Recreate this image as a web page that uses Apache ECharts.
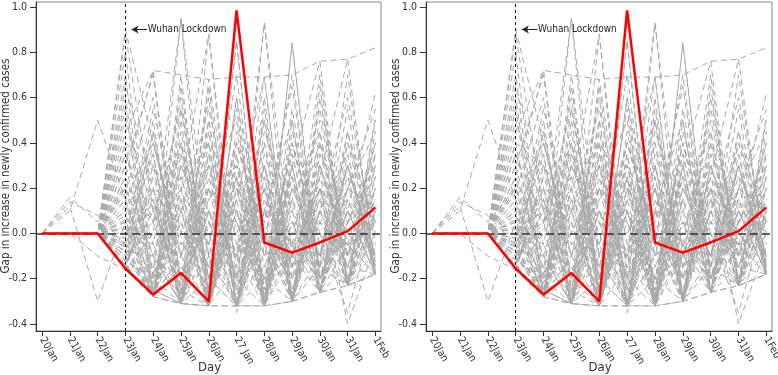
<!DOCTYPE html>
<html>
<head>
<meta charset="utf-8">
<script src="https://cdn.jsdelivr.net/npm/echarts@6/dist/echarts.min.js"></script>
<style>
  html, body { margin: 0; padding: 0; background: #fff; }
  #main { width: 778px; height: 375px; }
</style>
</head>
<body>
<div id="main"></div>
<script>
// tick labels
const days = ['20Jan', '21Jan', '22Jan', '23Jan', '24Jan', '25Jan', '26Jan', '27 Jan', '28Jan', '29Jan', '30Jan', '31Jan', '1Feb'];
const dayIdx = [0, 1, 2, 3, 4, 5, 6, 7, 8, 9, 10, 11, 12];
const yTicks = [-0.4, -0.2, 0, 0.2, 0.4, 0.6, 0.8, 1.0];

// treated unit (Wuhan) gap
const wuhan = [0, 0, 0, -0.155, -0.27, -0.175, -0.30, 0.985, -0.04, -0.085, -0.04, 0.01, 0.115];

// placebo gaps, one row per control city
const placebo = [
  [0, 0, 0, 0.88, 0.10, -0.20, 0.30, -0.10, 0.20, -0.25, 0.10, -0.05, 0.05],
  [0, 0, 0, 0.80, -0.20, 0.95, -0.10, 0.30, -0.28, 0.40, -0.15, 0.20, -0.10],
  [0, 0, 0, 0.45, 0.72, 0.70, 0.68, 0.69, 0.69, 0.70, 0.76, 0.77, 0.82],
  [0, 0, 0, 0.30, 0.70, -0.28, 0.88, -0.20, 0.50, -0.30, 0.30, -0.10, 0.40],
  [0, 0, 0, -0.16, -0.28, 0.50, -0.31, 0.60, -0.32, 0.84, -0.20, 0.30, -0.15],
  [0, 0.16, 0.05, 0.20, -0.10, 0.30, 0.10, -0.25, 0.93, -0.10, 0.20, 0.05, 0.15],
  [0, 0.10, 0.50, 0.15, 0.40, -0.05, 0.20, 0.10, -0.20, 0.30, 0.76, -0.22, 0.10],
  [0, 0.12, -0.30, 0.05, 0.30, 0.10, -0.30, 0.40, 0.00, -0.10, 0.25, 0.77, -0.18],
  [0, 0, 0, 0.60, -0.25, 0.20, 0.40, -0.32, 0.10, 0.50, -0.26, 0.10, 0.62],
  [0, 0, 0, 0.10, 0.35, -0.30, 0.15, 0.30, -0.10, 0.00, 0.40, -0.23, 0.50],
  [0, 0, 0, -0.05, 0.20, -0.31, 0.68, -0.15, 0.69, -0.28, 0.10, 0.35, -0.17],
  [0, 0, 0, 0.00, -0.28, 0.70, -0.32, 0.20, -0.05, 0.70, -0.20, 0.15, 0.00],
  [0, 0, 0, -0.12, 0.05, 0.25, -0.20, 0.55, -0.32, 0.10, 0.30, -0.15, 0.30],
  [0, 0, 0, -0.16, -0.15, 0.40, -0.10, -0.32, 0.35, -0.05, 0.55, -0.10, 0.20],
  [0, 0, 0, 0.20, -0.28, 0.10, 0.55, -0.05, -0.30, 0.20, -0.10, 0.45, -0.12],
  [0, 0, 0, -0.08, 0.45, -0.20, 0.20, -0.30, 0.60, -0.30, 0.65, -0.23, 0.25],
  [0, 0, 0, 0.05, 0.15, -0.31, 0.35, 0.05, -0.32, 0.45, 0.00, -0.05, -0.18],
  [0, 0, 0, -0.14, -0.28, 0.05, -0.32, 0.20, 0.15, -0.20, 0.10, 0.60, -0.05],
  [0, 0, 0, 0.35, -0.05, 0.60, -0.25, 0.10, -0.20, 0.25, -0.26, 0.20, 0.45],
  [0, 0, 0, -0.10, 0.25, -0.10, 0.50, -0.32, 0.40, -0.10, 0.20, -0.23, 0.10],
  [0, 0, 0, 0.15, -0.20, 0.30, -0.05, 0.70, -0.25, 0.55, -0.15, 0.30, -0.16],
  [0, 0, 0, -0.16, -0.28, -0.31, -0.32, -0.32, -0.32, -0.30, -0.26, -0.23, -0.18],
  [0, 0, 0, -0.02, 0.55, 0.00, -0.15, 0.25, -0.10, 0.35, -0.20, 0.05, 0.35],
  [0, 0, 0, 0.25, -0.10, -0.31, 0.25, -0.20, 0.20, -0.30, 0.45, -0.20, 0.15],
  [0, 0, 0, -0.06, -0.28, 0.35, 0.05, -0.10, 0.50, -0.15, 0.15, -0.23, 0.52],
  [0, 0, 0, 0.50, 0.10, -0.15, -0.32, 0.45, -0.15, 0.15, -0.25, 0.40, -0.10],
  [0, 0, 0, -0.12, 0.10, -0.25, 0.45, -0.25, 0.25, -0.28, 0.35, 0.00, -0.15],
  [0, 0, 0, 0.08, -0.22, 0.15, -0.30, 0.35, -0.28, 0.05, -0.10, 0.25, 0.05],
  [0, 0, 0, -0.16, 0.30, -0.05, 0.10, -0.32, 0.05, 0.65, -0.20, 0.10, -0.18],
  [0, 0, 0, 0.40, -0.28, 0.45, -0.20, 0.15, -0.32, 0.20, 0.05, -0.15, 0.25],
  [0, 0, 0, -0.04, 0.05, 0.55, -0.10, -0.15, 0.30, -0.30, 0.20, -0.40, -0.05],
  [0, 0, 0, 0.12, -0.15, -0.20, 0.60, -0.35, 0.10, -0.05, 0.00, -0.35, 0.10],
  [0, 0, 0, -0.10, -0.28, 0.20, -0.25, 0.85, -0.30, 0.30, -0.26, 0.15, -0.12],
  [0, 0, 0, 0.65, 0.20, -0.31, 0.10, 0.05, -0.20, -0.10, 0.50, -0.05, 0.00],
  [0, 0, 0, -0.14, 0.40, -0.10, -0.32, 0.15, 0.69, -0.30, 0.25, -0.20, 0.35],
  [0, 0, 0, 0.02, -0.05, 0.10, 0.30, -0.20, -0.32, 0.35, -0.15, 0.70, -0.15],
  [0, 0, 0, -0.16, -0.28, 0.25, -0.15, 0.40, -0.05, -0.30, 0.30, -0.10, 0.15],
  [0, 0, 0, 0.18, 0.60, -0.20, 0.05, -0.32, 0.45, 0.10, -0.26, 0.30, -0.10],
  [0, 0, 0, -0.08, -0.10, -0.31, 0.40, 0.20, -0.20, 0.40, -0.05, -0.23, 0.45],
  [0, 0, 0, 0.05, -0.28, 0.65, -0.28, -0.05, 0.20, -0.20, 0.35, 0.10, -0.18],
  [0, 0, 0, -0.12, 0.15, -0.31, 0.20, -0.10, -0.32, 0.25, -0.10, 0.40, 0.05],
  [0, 0, 0, 0.30, -0.18, 0.05, -0.32, 0.60, -0.10, 0.05, -0.26, 0.05, 0.30],
  [0, 0, 0, -0.16, 0.25, 0.15, -0.05, -0.32, 0.30, -0.30, 0.10, -0.15, 0.20],
  [0, 0, 0, 0.00, -0.28, -0.10, 0.15, 0.10, -0.32, 0.15, 0.45, -0.23, -0.08],
  [0, 0, 0, 0.22, 0.05, 0.40, -0.32, 0.30, 0.05, -0.25, 0.15, 0.25, -0.18],
  [0, 0, 0, -0.06, 0.50, -0.31, 0.30, -0.30, 0.15, -0.05, -0.20, 0.20, 0.10],
  [0, 0, 0, 0.70, -0.28, 0.10, -0.15, -0.10, 0.40, -0.30, 0.60, -0.10, -0.05],
  [0, 0, 0, -0.16, -0.05, -0.31, 0.50, -0.25, -0.15, 0.20, -0.10, 0.55, -0.18],
  [0, 0, 0, 0.10, 0.20, -0.20, -0.32, 0.20, -0.32, 0.50, -0.26, -0.05, 0.40],
  [0, 0, 0, -0.10, -0.28, 0.30, 0.00, -0.32, 0.55, -0.20, 0.05, 0.15, -0.15],
  [0, 0, 0, 0.40, 0.30, -0.31, 0.20, 0.50, -0.25, -0.10, 0.20, -0.23, 0.05],
  [0, 0, 0, -0.14, 0.10, 0.05, -0.32, -0.15, 0.20, -0.30, 0.40, 0.05, 0.25],
  [0, 0, 0, 0.06, -0.28, 0.55, -0.20, 0.25, -0.32, 0.30, -0.26, 0.35, -0.18],
  [0, 0, 0, -0.02, 0.35, -0.31, -0.05, 0.40, -0.05, 0.10, -0.15, -0.23, 0.20],
  [0, 0, 0, 0.55, -0.28, -0.10, 0.35, -0.32, 0.30, -0.15, 0.25, 0.00, -0.12],
  [0, 0, 0, -0.16, 0.00, 0.20, -0.32, 0.05, -0.25, 0.40, -0.05, 0.20, 0.55],
  [0, 0, 0, 0.15, -0.25, -0.31, 0.05, -0.32, 0.10, -0.30, 0.10, -0.23, -0.18],
  [0, 0, 0, -0.08, -0.28, -0.31, -0.32, 0.10, -0.32, -0.05, -0.26, 0.10, -0.18],
  [0, 0, 0, 0.03, -0.28, -0.15, -0.32, -0.32, -0.20, -0.30, -0.26, -0.23, 0.00],
  [0, 0, 0, -0.12, -0.20, -0.31, -0.20, -0.32, -0.32, -0.30, -0.10, -0.23, -0.18],
  [0, 0.14, 0.08, -0.05, -0.28, 0.15, -0.32, 0.25, -0.32, -0.10, -0.26, -0.15, -0.18],
  [0, 0, -0.10, -0.16, -0.25, -0.31, -0.10, -0.32, 0.00, -0.30, -0.15, -0.23, 0.10],
  [0, 0, 0, 0.90, 0.40, -0.10, 0.20, 0.00, 0.30, -0.15, 0.05, -0.10, 0.15],
  [0, 0, 0, 0.25, 0.72, -0.25, 0.10, -0.20, 0.10, 0.05, -0.20, 0.10, -0.10],
  [0, 0, 0, -0.16, 0.00, 0.95, -0.32, 0.10, -0.20, -0.10, 0.10, -0.05, 0.05],
  [0, 0, 0, 0.10, -0.28, 0.20, 0.88, -0.32, 0.20, -0.05, 0.15, -0.15, 0.10],
  [0, 0, 0, -0.04, 0.15, -0.31, 0.10, -0.10, 0.93, -0.30, 0.05, -0.10, 0.15],
  [0, 0, 0, 0.02, -0.20, 0.10, -0.32, 0.25, -0.30, 0.84, -0.25, 0.05, -0.10],
  [0, 0, 0, -0.14, -0.28, 0.40, -0.25, 0.85, -0.32, 0.05, 0.00, -0.23, 0.20],
  [0, 0, 0, 0.35, 0.05, -0.31, 0.65, -0.32, 0.25, -0.30, 0.30, -0.05, -0.18],
  [0, 0, 0, -0.10, 0.45, -0.25, -0.32, 0.35, -0.30, 0.30, -0.26, 0.45, 0.00],
  [0, 0, 0, 0.00, 0.10, 0.35, -0.20, -0.32, 0.10, -0.15, 0.70, -0.23, 0.30],
  [0, 0, 0, -0.06, -0.28, 0.00, 0.30, 0.10, -0.32, 0.15, -0.10, 0.30, -0.18],
  [0, 0, 0, 0.20, -0.10, -0.31, -0.32, 0.15, 0.00, -0.30, 0.20, -0.10, 0.35],
  [0, 0, 0, -0.16, 0.20, 0.10, 0.40, -0.32, -0.10, 0.25, -0.26, 0.20, 0.05]
];

const lockdownDay = 3;
const lockdownText = 'Wuhan Lockdown';
const arrowY = 0.9;
const yTitle = 'Gap in increase in newly confirmed cases';
const xTitle = 'Day';

const chart = echarts.init(document.getElementById('main'));
// the source figure uses a narrow sans face
const font = '"Liberation Sans Narrow", "DejaVu Sans Condensed", "Liberation Sans", Arial, sans-serif';

const grids = [
  { left: 36, top: 2, width: 345, height: 329 },
  { left: 426, top: 2, width: 346, height: 329 }
];

function xAxisFor(g) {
  return {
    type: 'value', gridIndex: g, min: -0.22, max: 12.2,
    axisLine: { show: true, onZero: false, lineStyle: { color: '#333', width: 1 } },
    axisTick: { show: true, customValues: dayIdx, length: 5, lineStyle: { color: '#333' } },
    axisLabel: {
      customValues: dayIdx, formatter: v => days[v], rotate: -60,
      fontSize: 10.5, color: '#333', margin: 7, fontFamily: font
    },
    splitLine: { show: false }
  };
}

function yAxisFor(g) {
  return {
    type: 'value', gridIndex: g, min: -0.431, max: 1.022,
    axisLine: { show: true, onZero: false, lineStyle: { color: '#333', width: 1 } },
    axisTick: { show: true, customValues: yTicks, length: 6, lineStyle: { color: '#333' } },
    axisLabel: {
      customValues: yTicks, formatter: v => v.toFixed(1),
      fontSize: 10.5, color: '#333', margin: 9, fontFamily: font
    },
    splitLine: { show: false }
  };
}

// axis titles as plain text, placed beside each panel
const titles = [];
grids.forEach(r => {
  titles.push({
    type: 'text', rotation: Math.PI / 2,
    x: r.left - 30, y: r.top + 164,
    style: { text: yTitle, fill: '#333', font: '11.5px ' + font,
             align: 'center', verticalAlign: 'middle' }
  });
  titles.push({
    type: 'text',
    x: r.left + r.width / 2 + 1, y: 368,
    style: { text: xTitle, fill: '#333', font: '13px ' + font,
             align: 'center', verticalAlign: 'middle' }
  });
});

const series = [];
grids.forEach((_, g) => {
  placebo.forEach((row, i) => {
    series.push({
      name: 'placebo' + i, type: 'line', xAxisIndex: g, yAxisIndex: g,
      data: row.map((v, k) => [dayIdx[k], v]),
      symbol: 'none', silent: true, z: 2,
      lineStyle: { color: '#a9a9a9', width: 1, type: [6, 4] }
    });
  });
  series.push({
    name: 'Wuhan', type: 'line', xAxisIndex: g, yAxisIndex: g,
    data: wuhan.map((v, k) => [dayIdx[k], v]),
    symbol: 'none', silent: true, z: 5,
    lineStyle: { color: '#ff0000', width: 2.5 },
    markLine: {
      silent: true, symbol: ['none', 'none'], label: { show: false },
      data: [
        { yAxis: 0, lineStyle: { type: [8, 4], color: '#333', width: 1.5 } },
        { xAxis: lockdownDay, lineStyle: { type: [3, 3], color: '#111', width: 1 } },
        [
          { coord: [3.78, arrowY], symbol: 'none' },
          { coord: [3.22, arrowY], symbol: 'arrow', symbolSize: [6, 7],
            lineStyle: { type: 'solid', color: '#222', width: 1 } }
        ]
      ]
    },
    markPoint: {
      silent: true,
      data: [{
        coord: [3.8, arrowY], symbol: 'circle', symbolSize: 0,
        label: { show: true, position: 'right', distance: 0, formatter: lockdownText,
                 color: '#222', fontSize: 10, fontFamily: font }
      }]
    }
  });
});

chart.setOption({
  animation: false,
  backgroundColor: '#fff',
  grid: grids.map(r => Object.assign({
    show: true, borderColor: '#888', borderWidth: 1,
    containLabel: false, outerBoundsMode: 'none'
  }, r)),
  xAxis: grids.map((_, g) => xAxisFor(g)),
  yAxis: grids.map((_, g) => yAxisFor(g)),
  graphic: titles,
  series: series
});

window.addEventListener('resize', function () {
  chart.resize();
});
</script>
</body>
</html>
